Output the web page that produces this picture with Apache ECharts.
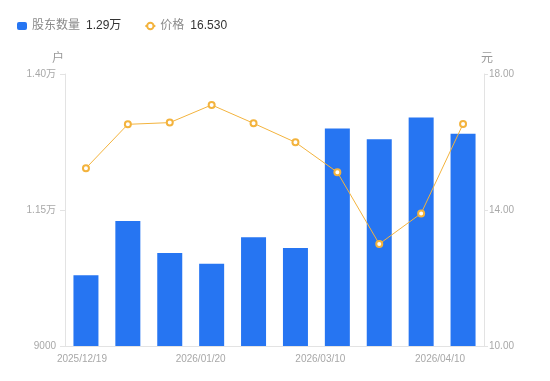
<!DOCTYPE html>
<html><head><meta charset="utf-8">
<script src="https://cdn.jsdelivr.net/npm/echarts@6/dist/echarts.min.js"></script>
<style>html,body{margin:0;padding:0;background:#fff}#c{width:550px;height:381px}</style>
</head><body><div id="c"></div>
<script>
const categories = ['2025/12/19','2025/12/31','2026/01/09','2026/01/20','2026/01/30','2026/02/27','2026/03/10','2026/03/20','2026/03/31','2026/04/10'];
const holders = [10300, 11300, 10710, 10510, 11000, 10800, 13000, 12800, 13200, 12900];
const prices = [15.23, 16.52, 16.57, 17.09, 16.55, 15.99, 15.11, 13.00, 13.90, 16.53];
const holderTicks = [9000, 11500, 14000];
const priceTicks = [10, 14, 18];

const FONT = "'Liberation Sans','Noto Sans CJK SC',sans-serif";
const fmtHolder = v => v >= 10000 ? (v / 10000).toFixed(2) + '万' : String(v);
const lastH = holders[holders.length - 1];
const lastP = prices[prices.length - 1];
const axisGrey = '#e3e3e3';
const labelGrey = '#a8a8a8';

const chart = echarts.init(document.getElementById('c'), null, {renderer: 'canvas'});
chart.setOption({
  animation: false,
  textStyle: {fontFamily: FONT},
  legend: {
    left: 12, top: 15,
    itemWidth: 10, itemHeight: 8, itemGap: 23,
    selectedMode: false,
    data: [
      {name: '股东数量', icon: 'roundRect'},
      {name: '价格'}
    ],
    formatter: name => name === '股东数量'
      ? '{n|股东数量}{v|' + (lastH / 10000).toFixed(2) + '万}'
      : '{n|价格}{v|' + lastP.toFixed(3) + '}',
    textStyle: {
      fontFamily: FONT,
      rich: {
        n: {fontSize: 12, color: '#8a8a8a', fontFamily: FONT, padding: [0, 6, 0, 0]},
        v: {fontSize: 12, color: '#333', fontFamily: FONT}
      }
    }
  },
  grid: {left: 65, right: 66, top: 74, bottom: 35},
  xAxis: {
    type: 'category',
    data: categories,
    axisLine: {lineStyle: {color: axisGrey}},
    axisTick: {show: false},
    axisLabel: {
      interval: 2,
      fontSize: 10,
      color: labelGrey,
      margin: 8,
      formatter: (v, i) => '{l' + i + '|' + v + '}',
      rich: {
        l0: {fontSize: 10, color: labelGrey, padding: [0, 8, 0, 0]},
        l3: {fontSize: 10, color: labelGrey, padding: [0, 22, 0, 0]},
        l6: {fontSize: 10, color: labelGrey, padding: [0, 34, 0, 0]},
        l9: {fontSize: 10, color: labelGrey, padding: [0, 46, 0, 0]}
      }
    }
  },
  yAxis: [
    {
      type: 'value',
      name: '户',
      nameLocation: 'end',
      nameGap: 9,
      nameTextStyle: {color: '#999', fontSize: 12, padding: [0, 14, 0, 0]},
      min: holderTicks[0], max: holderTicks[holderTicks.length - 1],
      interval: holderTicks[1] - holderTicks[0],
      axisLine: {show: true, lineStyle: {color: axisGrey}},
      axisTick: {show: true, length: 5, lineStyle: {color: axisGrey}},
      splitLine: {show: false},
      axisLabel: {fontSize: 10, color: labelGrey, margin: 9, formatter: fmtHolder}
    },
    {
      type: 'value',
      name: '元',
      nameLocation: 'end',
      nameGap: 9,
      nameTextStyle: {color: '#999', fontSize: 12, padding: [0, 0, 0, 6]},
      min: priceTicks[0], max: priceTicks[priceTicks.length - 1],
      interval: priceTicks[1] - priceTicks[0],
      axisLine: {show: true, lineStyle: {color: axisGrey}},
      axisTick: {show: true, length: 4, lineStyle: {color: axisGrey}},
      splitLine: {show: false},
      axisLabel: {fontSize: 10, color: labelGrey, margin: 5, formatter: v => v.toFixed(2)}
    }
  ],
  series: [
    {
      name: '股东数量',
      type: 'bar',
      yAxisIndex: 0,
      data: holders,
      barWidth: 25,
      itemStyle: {color: '#2675f2'}
    },
    {
      name: '价格',
      type: 'line',
      yAxisIndex: 1,
      data: prices,
      symbol: 'emptyCircle',
      symbolSize: 6,
      lineStyle: {color: '#f3b33d', width: 1},
      itemStyle: {color: '#f3b33d', borderColor: '#f3b33d', borderWidth: 2}
    }
  ]
});
</script>
</body></html>
